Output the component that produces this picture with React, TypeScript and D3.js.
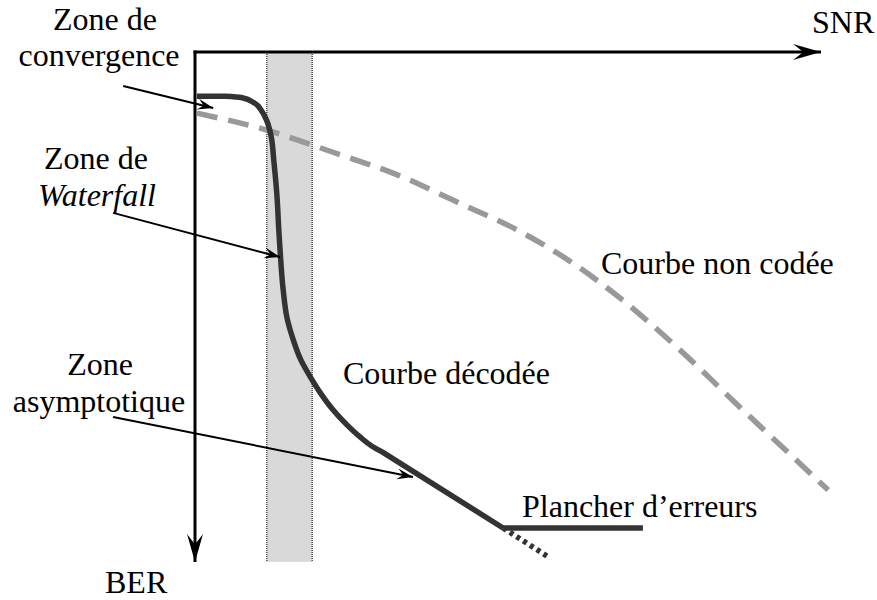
import React from "react";
import * as d3 from "d3";

// Decoded (coded) BER curve, abstract units: SNR (0..10), -log BER (0..10)
const decodedSnr = [0.03, 0.48, 0.75, 0.94, 1.06, 1.14, 1.21, 1.25, 1.3, 1.33, 1.35, 1.4, 1.46, 1.56, 1.68, 1.83, 2.0, 2.19, 2.4, 2.62, 2.81, 2.97];
const decodedBer = [0.86, 0.86, 0.89, 0.99, 1.15, 1.34, 1.65, 2.1, 2.78, 3.46, 3.85, 4.63, 5.17, 5.6, 5.99, 6.32, 6.65, 6.96, 7.24, 7.49, 7.67, 7.78];
// asymptotic straight part
const asymSnr = [2.97, 4.89];
const asymBer = [7.78, 9.26];
// error floor
const floorSnr = [4.89, 7.11];
const floorBer = [9.26, 9.26];
// dotted asymptote extension
const extSnr = [4.89, 5.63];
const extBer = [9.26, 9.84];
// uncoded curve
const uncodedSnr = [0.03, 1.14, 2.19, 3.21, 4.16, 5.11, 6.0, 6.75, 7.7, 8.65, 10.05];
const uncodedBer = [1.19, 1.52, 1.95, 2.39, 2.92, 3.46, 4.11, 4.79, 5.8, 6.91, 8.52];
// waterfall band
const bandSnr = [1.14, 1.86];
const bandBer = [0, 9.92];
// annotation arrows [fromSnr, fromBer, toSnr, toBer]
const arrowFromSnr = [-1.14, -1.3, -1.3];
const arrowFromBer = [0.66, 3.13, 7.1];
const arrowToSnr = [0.29, 1.35, 3.46];
const arrowToBer = [1.09, 3.99, 8.27];

const W = 877;
const H = 600;
const FONT = "Liberation Serif";
const FS = 32;

export default function App() {
  const x = d3.scaleLinear().domain([0, 10]).range([195, 825]);
  const y = d3.scaleLinear().domain([0, 10]).range([52, 566]);

  const mk = (xs: number[], ys: number[]) => xs.map((v, i) => [v, ys[i]] as [number, number]);
  const smooth = d3.line<[number, number]>().x((d) => x(d[0])).y((d) => y(d[1])).curve(d3.curveMonotoneY);
  const smoothX = d3.line<[number, number]>().x((d) => x(d[0])).y((d) => y(d[1])).curve(d3.curveMonotoneX);
  const straight = d3.line<[number, number]>().x((d) => x(d[0])).y((d) => y(d[1]));

  const decodedPath = smooth(mk(decodedSnr, decodedBer)) + straight(mk(asymSnr, asymBer))!.replace(/^M/, "L");

  const texts: { t: string; x: number; y: number; anchor: string; italic?: boolean }[] = [
    { t: "Zone de", x: 105, y: 30, anchor: "middle" },
    { t: "convergence", x: 99, y: 66, anchor: "middle" },
    { t: "Zone de", x: 96, y: 169, anchor: "middle" },
    { t: "Waterfall", x: 97, y: 206, anchor: "middle", italic: true },
    { t: "Zone", x: 100, y: 375, anchor: "middle" },
    { t: "asymptotique", x: 99, y: 412, anchor: "middle" },
    { t: "Courbe décodée", x: 343, y: 384, anchor: "start" },
    { t: "Courbe non codée", x: 601, y: 274, anchor: "start" },
    { t: "Plancher d\u2019erreurs", x: 522, y: 517, anchor: "start" },
    { t: "SNR", x: 812, y: 33, anchor: "start" },
    { t: "BER", x: 105, y: 593, anchor: "start" },
  ];

  return (
    <svg width={W} height={H} style={{ position: "absolute", left: 0, top: 0, background: "#fff" }}>
      <defs>
        <marker id="axisHead" viewBox="-30 -10 32 20" refX={0} refY={0} markerWidth={32} markerHeight={20} markerUnits="userSpaceOnUse" orient="auto">
          <path d="M0,0 L-28,-8 Q-20,-2 -18,0 Q-20,2 -28,8 Z" fill="#000" />
        </marker>
        <marker id="smallHead" viewBox="-18 -7 20 14" refX={0} refY={0} markerWidth={20} markerHeight={14} markerUnits="userSpaceOnUse" orient="auto">
          <path d="M0,0 L-16,-5.5 Q-11,-1 -10,0 Q-11,1 -16,5.5 Z" fill="#000" />
        </marker>
      </defs>

      {/* waterfall band */}
      <rect
        x={x(bandSnr[0])}
        y={y(bandBer[0])}
        width={x(bandSnr[1]) - x(bandSnr[0])}
        height={y(bandBer[1]) - y(bandBer[0])}
        fill="#d9d9d9"
      />
      {bandSnr.map((s, i) => (
        <line key={i} x1={x(s)} x2={x(s)} y1={y(bandBer[0])} y2={y(bandBer[1])} stroke="#000" strokeWidth={1} strokeDasharray="1 1" />
      ))}

      {/* axes */}
      <line x1={x(0) - 1.5} y1={y(0)} x2={x(10) - 4} y2={y(0)} stroke="#000" strokeWidth={3} markerEnd="url(#axisHead)" />
      <line x1={x(0)} y1={y(0) - 1.5} x2={x(0)} y2={y(10) - 4} stroke="#000" strokeWidth={3} markerEnd="url(#axisHead)" />

      {/* uncoded */}
      <path d={smoothX(mk(uncodedSnr, uncodedBer))!} fill="none" stroke="#999" strokeWidth={5.5} strokeDasharray="21 11" />

      {/* decoded */}
      <path d={decodedPath} fill="none" stroke="#333" strokeWidth={5.5} strokeLinejoin="round" />
      <path d={straight(mk(floorSnr, floorBer))!} fill="none" stroke="#333" strokeWidth={5.5} />
      <path d={straight(mk(extSnr, extBer))!} fill="none" stroke="#333" strokeWidth={5.5} strokeDasharray="4 4" />

      {/* annotation arrows */}
      {arrowFromSnr.map((s, i) => (
        <line
          key={i}
          x1={x(s)}
          y1={y(arrowFromBer[i])}
          x2={x(arrowToSnr[i])}
          y2={y(arrowToBer[i])}
          stroke="#000"
          strokeWidth={2}
          markerEnd="url(#smallHead)"
        />
      ))}

      <g style={{ fontFamily: FONT }}>
        {texts.map((t, i) => (
          <text
            key={i}
            x={t.x}
            y={t.y}
            textAnchor={t.anchor}
            fontFamily={FONT}
            fontSize={FS}
            fontStyle={t.italic ? "italic" : "normal"}
            fill="#000"
          >
            {t.t}
          </text>
        ))}
      </g>
    </svg>
  );
}
